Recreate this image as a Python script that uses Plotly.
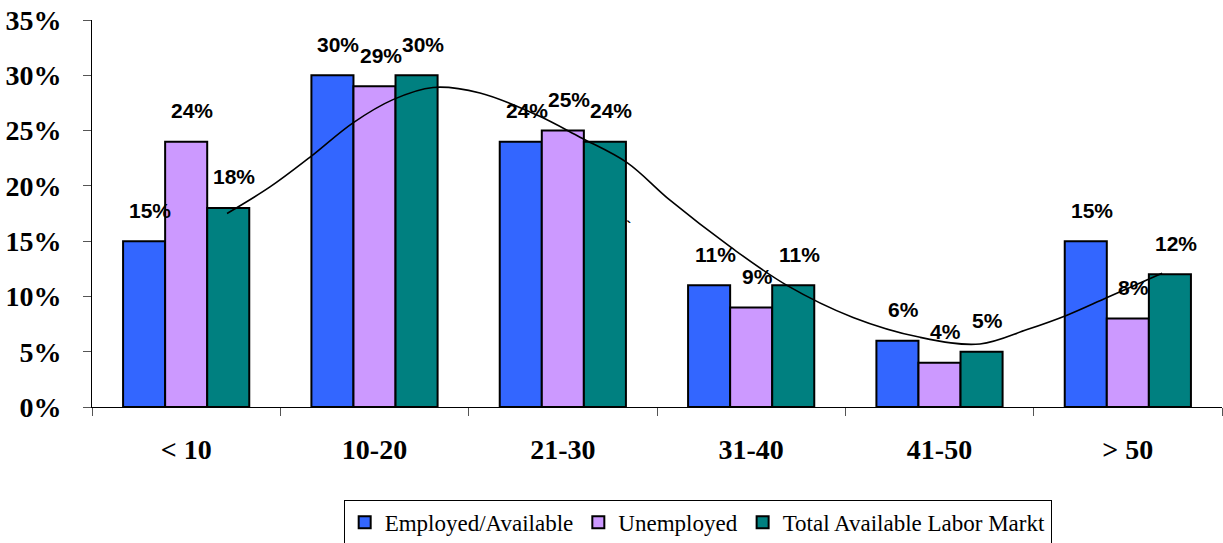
import plotly.graph_objects as go

categories = ["< 10", "10-20", "21-30", "31-40", "41-50", "> 50"]
employed = [15, 30, 24, 11, 6, 15]
unemployed = [24, 29, 25, 9, 4, 8]
total = [18, 30, 24, 11, 5, 12]

series_names = ["Employed/Available", "Unemployed", "Total Available Labor Markt"]
series_colors = ["#3366FF", "#CC99FF", "#008080"]

y_ticks = [0, 5, 10, 15, 20, 25, 30, 35]
y_tick_text = [f"{t}%" for t in y_ticks]

# trendline points (x in category units, y in %)
trend_x = [0.217, 0.445, 0.658, 0.886, 1.098, 1.311, 1.560, 1.863, 2.091, 2.341,
           2.569, 2.888, 3.190, 3.541, 3.897, 4.215, 4.465, 4.677, 4.890, 5.182]
trend_y = [17.5, 19.9, 22.6, 25.7, 27.8, 28.9, 28.4, 26.4, 24.4, 22.1,
           18.7, 14.5, 11.0, 8.1, 6.3, 5.7, 7.0, 8.3, 9.9, 12.1]

bargap = 0.33
fig = go.Figure()
all_series = [employed, unemployed, total]
for name, vals, col in zip(series_names, all_series, series_colors):
    fig.add_trace(go.Bar(name=name, x=categories, y=vals,
                         marker=dict(color=col, line=dict(color="black", width=2))))

fig.add_trace(go.Scatter(x=trend_x, y=trend_y, xaxis="x2", yaxis="y", mode="lines",
                         line=dict(color="black", width=1.6, shape="spline", smoothing=1.0),
                         showlegend=False, hoverinfo="skip"))

bw = (1 - bargap) / 3
label_font = dict(family="Liberation Sans, Arial", size=21, color="black", weight="bold")
annotations = []
for j, vals in enumerate(all_series):
    for i, v in enumerate(vals):
        annotations.append(dict(x=i + (j - 1) * bw, y=v, xref="x2", yref="y",
                                text=f"{v}%", showarrow=False, xshift=6, yshift=31,
                                font=label_font))
annotations.append(dict(x=2.346, y=16.2, xref="x2", yref="y", text="`", showarrow=False,
                        font=dict(family="Liberation Sans, Arial", size=16, color="black",
                                  weight="bold")))

axis_font = dict(family="Liberation Serif, Times New Roman", size=28, color="black",
                 weight="bold")
fig.update_layout(
    width=1223, height=543,
    margin=dict(l=92, r=1, t=20, b=136, autoexpand=False),
    paper_bgcolor="white", plot_bgcolor="white",
    barmode="group", bargap=bargap, bargroupgap=0,
    annotations=annotations,
    showlegend=True,
    legend=dict(orientation="h", x=0.536, xanchor="center", y=-0.24, yanchor="top",
                bordercolor="black", borderwidth=1, itemwidth=30,
                font=dict(family="Liberation Serif, Times New Roman", size=23, color="black"),
                traceorder="normal"),
    xaxis=dict(type="category", tickson="boundaries", ticks="outside", ticklen=8,
               tickcolor="#555", showline=True, linecolor="black", linewidth=1,
               showgrid=False, ticklabelstandoff=17, automargin=False,
               tickfont=axis_font),
    xaxis2=dict(overlaying="x", range=[-0.5, 5.5], visible=False),
    yaxis=dict(range=[0, 35], tickmode="array", tickvals=y_ticks, ticktext=y_tick_text,
               ticks="outside", ticklen=8, tickcolor="#555", showline=True,
               linecolor="black", linewidth=1, showgrid=False, zeroline=False,
               ticklabelstandoff=16, automargin=False,
               tickfont=axis_font),
)

fig.write_html("out.html", config={"displayModeBar": False},
               post_script="document.body.style.margin='0';document.body.style.overflow='hidden';")
